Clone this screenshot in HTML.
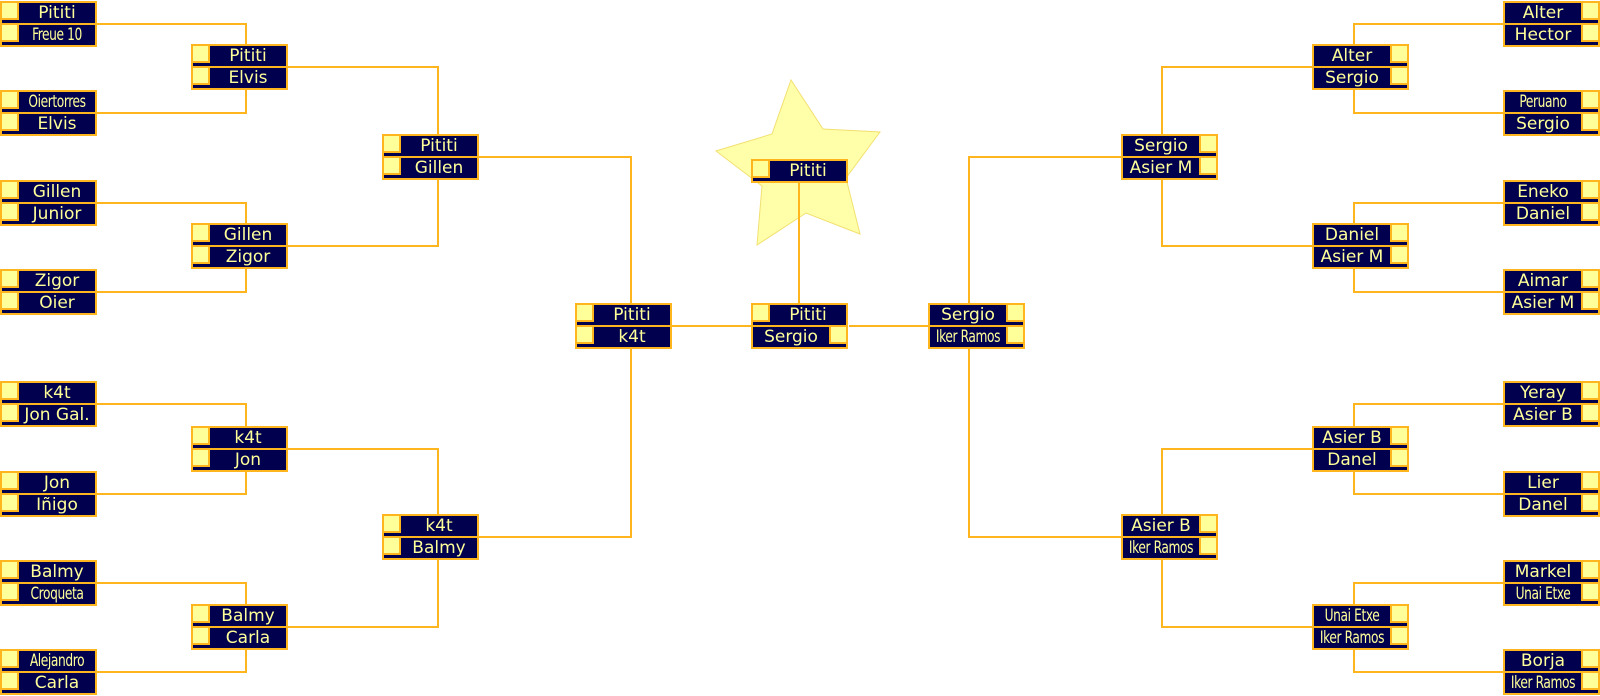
<!DOCTYPE html>
<html><head><meta charset="utf-8"><style>
html,body{margin:0;padding:0;background:#fff;width:1600px;height:696px;overflow:hidden;position:relative}
.b{position:absolute;width:93px;height:42px;border:2px solid #ffb61e;background:#00004f;font-family:"DejaVu Sans","Liberation Sans",sans-serif}
.r{position:absolute;left:0;width:93px;height:20px}
.r1{top:0}.r2{top:22px}
.b:after{content:"";position:absolute;left:0;top:20px;width:93px;height:2px;background:#ffb61e}
.r i{position:absolute;top:0;width:15px;height:15px;background:#ffff99;border:2px solid #ffb61e;border-top:none;border-left:none;z-index:2}
.L .r i{left:0}
.R .r i{right:0;border-right:none;border-left:2px solid #ffb61e}
.r span{position:absolute;top:0;line-height:20px;height:20px;font-size:17px;color:#ffff99;text-align:center;white-space:nowrap;overflow:hidden}
.L .r span{left:17px;right:0}
.R .r span{left:0;right:17px}
.L .r span.c{left:-3px;right:-20px}
.R .r span.c{left:-20px;right:-3px}
.r span.c{font-family:"DejaVu Sans Condensed","DejaVu Sans",sans-serif;font-size:17px;letter-spacing:-0.5px;overflow:visible;transform:scaleX(0.8)}
svg{position:absolute;left:0;top:0}
</style></head><body>
<svg width="1600" height="696">
<polygon points="791,80 823,129 880,132 846,178 860,234 806,213 757,245 762,186 716,151 772,134" fill="#ffffaa" stroke="#f2e070" stroke-width="1"/>
<g fill="none" stroke="#ffb61e" stroke-width="2">
<polyline points="97,24 246,24 246,44"/><polyline points="97,113 246,113 246,90"/>
<polyline points="97,203 246,203 246,223"/><polyline points="97,292 246,292 246,269"/>
<polyline points="97,404 246,404 246,426"/><polyline points="97,494 246,494 246,472"/>
<polyline points="97,583 246,583 246,604"/><polyline points="97,672 246,672 246,650"/>
<polyline points="288,67 438,67 438,134"/><polyline points="288,246 438,246 438,180"/>
<polyline points="288,449 438,449 438,514"/><polyline points="288,627 438,627 438,560"/>
<polyline points="479,157 631,157 631,303"/><polyline points="479,537 631,537 631,349"/>
<polyline points="1503,24 1354,24 1354,44"/><polyline points="1503,113 1354,113 1354,90"/>
<polyline points="1503,203 1354,203 1354,223"/><polyline points="1503,292 1354,292 1354,269"/>
<polyline points="1503,404 1354,404 1354,426"/><polyline points="1503,494 1354,494 1354,472"/>
<polyline points="1503,583 1354,583 1354,604"/><polyline points="1503,672 1354,672 1354,650"/>
<polyline points="1312,67 1162,67 1162,134"/><polyline points="1312,246 1162,246 1162,180"/>
<polyline points="1312,449 1162,449 1162,514"/><polyline points="1312,627 1162,627 1162,560"/>
<polyline points="1121,157 969,157 969,303"/><polyline points="1121,537 969,537 969,349"/>
<line x1="672" y1="326" x2="751" y2="326"/><line x1="849" y1="326" x2="928" y2="326"/>
<line x1="799" y1="303" x2="799" y2="183"/>
</g></svg>

<div class="b L" style="left:0;top:1px"><div class="r r1"><i></i><span>Pititi</span></div><div class="r r2"><i></i><span class="c">Freue 10</span></div></div>
<div class="b L" style="left:0;top:90px"><div class="r r1"><i></i><span class="c">Oiertorres</span></div><div class="r r2"><i></i><span>Elvis</span></div></div>
<div class="b L" style="left:0;top:180px"><div class="r r1"><i></i><span>Gillen</span></div><div class="r r2"><i></i><span>Junior</span></div></div>
<div class="b L" style="left:0;top:269px"><div class="r r1"><i></i><span>Zigor</span></div><div class="r r2"><i></i><span>Oier</span></div></div>
<div class="b L" style="left:0;top:381px"><div class="r r1"><i></i><span>k4t</span></div><div class="r r2"><i></i><span>Jon Gal.</span></div></div>
<div class="b L" style="left:0;top:471px"><div class="r r1"><i></i><span>Jon</span></div><div class="r r2"><i></i><span>Iñigo</span></div></div>
<div class="b L" style="left:0;top:560px"><div class="r r1"><i></i><span>Balmy</span></div><div class="r r2"><i></i><span class="c">Croqueta</span></div></div>
<div class="b L" style="left:0;top:649px"><div class="r r1"><i></i><span class="c">Alejandro</span></div><div class="r r2"><i></i><span>Carla</span></div></div>

<div class="b L" style="left:191px;top:44px"><div class="r r1"><i></i><span>Pititi</span></div><div class="r r2"><i></i><span>Elvis</span></div></div>
<div class="b L" style="left:191px;top:223px"><div class="r r1"><i></i><span>Gillen</span></div><div class="r r2"><i></i><span>Zigor</span></div></div>
<div class="b L" style="left:191px;top:426px"><div class="r r1"><i></i><span>k4t</span></div><div class="r r2"><i></i><span>Jon</span></div></div>
<div class="b L" style="left:191px;top:604px"><div class="r r1"><i></i><span>Balmy</span></div><div class="r r2"><i></i><span>Carla</span></div></div>

<div class="b L" style="left:382px;top:134px"><div class="r r1"><i></i><span>Pititi</span></div><div class="r r2"><i></i><span>Gillen</span></div></div>
<div class="b L" style="left:382px;top:514px"><div class="r r1"><i></i><span>k4t</span></div><div class="r r2"><i></i><span>Balmy</span></div></div>

<div class="b L" style="left:575px;top:303px"><div class="r r1"><i></i><span>Pititi</span></div><div class="r r2"><i></i><span>k4t</span></div></div>

<div class="b L" style="left:751px;top:303px"><div class="r r1"><i></i><span>Pititi</span></div><div class="r r2" style="left:0"><i style="left:auto;right:0;border-right:none;border-left:2px solid #ffb61e"></i><span style="left:0;right:17px">Sergio</span></div></div>

<div class="b L" style="left:751px;top:159px;height:20px"><div class="r r1"><i></i><span>Pititi</span></div></div>

<div class="b R" style="left:928px;top:303px"><div class="r r1"><i></i><span>Sergio</span></div><div class="r r2"><i></i><span class="c">Iker Ramos</span></div></div>

<div class="b R" style="left:1121px;top:134px"><div class="r r1"><i></i><span>Sergio</span></div><div class="r r2"><i></i><span>Asier M</span></div></div>
<div class="b R" style="left:1121px;top:514px"><div class="r r1"><i></i><span>Asier B</span></div><div class="r r2"><i></i><span class="c">Iker Ramos</span></div></div>

<div class="b R" style="left:1312px;top:44px"><div class="r r1"><i></i><span>Alter</span></div><div class="r r2"><i></i><span>Sergio</span></div></div>
<div class="b R" style="left:1312px;top:223px"><div class="r r1"><i></i><span>Daniel</span></div><div class="r r2"><i></i><span>Asier M</span></div></div>
<div class="b R" style="left:1312px;top:426px"><div class="r r1"><i></i><span>Asier B</span></div><div class="r r2"><i></i><span>Danel</span></div></div>
<div class="b R" style="left:1312px;top:604px"><div class="r r1"><i></i><span class="c">Unai Etxe</span></div><div class="r r2"><i></i><span class="c">Iker Ramos</span></div></div>

<div class="b R" style="left:1503px;top:1px"><div class="r r1"><i></i><span>Alter</span></div><div class="r r2"><i></i><span>Hector</span></div></div>
<div class="b R" style="left:1503px;top:90px"><div class="r r1"><i></i><span class="c">Peruano</span></div><div class="r r2"><i></i><span>Sergio</span></div></div>
<div class="b R" style="left:1503px;top:180px"><div class="r r1"><i></i><span>Eneko</span></div><div class="r r2"><i></i><span>Daniel</span></div></div>
<div class="b R" style="left:1503px;top:269px"><div class="r r1"><i></i><span>Aimar</span></div><div class="r r2"><i></i><span>Asier M</span></div></div>
<div class="b R" style="left:1503px;top:381px"><div class="r r1"><i></i><span>Yeray</span></div><div class="r r2"><i></i><span>Asier B</span></div></div>
<div class="b R" style="left:1503px;top:471px"><div class="r r1"><i></i><span>Lier</span></div><div class="r r2"><i></i><span>Danel</span></div></div>
<div class="b R" style="left:1503px;top:560px"><div class="r r1"><i></i><span>Markel</span></div><div class="r r2"><i></i><span class="c">Unai Etxe</span></div></div>
<div class="b R" style="left:1503px;top:649px"><div class="r r1"><i></i><span>Borja</span></div><div class="r r2"><i></i><span class="c">Iker Ramos</span></div></div>
</body></html>
